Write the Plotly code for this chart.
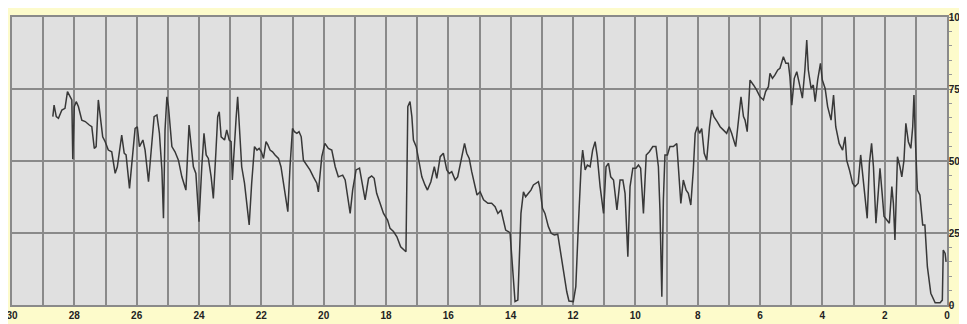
import plotly.graph_objects as go

# days before now (30 = oldest, 0 = now)
days = [
    28.69, 28.65, 28.58, 28.51, 28.40, 28.30, 28.22, 28.14, 28.08, 28.05, 28.00, 27.94, 27.87, 27.76,
    27.65, 27.52, 27.44, 27.36, 27.30, 27.23, 27.15, 27.09, 27.01, 26.91, 26.80, 26.69, 26.62, 26.53,
    26.48, 26.40, 26.34, 26.23, 26.16, 26.05, 25.98, 25.91, 25.80, 25.73, 25.62, 25.54, 25.44, 25.35,
    25.27, 25.19, 25.14, 25.09, 25.03, 24.98, 24.87, 24.77, 24.66,
    24.55, 24.42, 24.32, 24.25, 24.18, 24.10, 24.00, 23.91, 23.84, 23.77, 23.70, 23.61, 23.54, 23.46,
    23.40, 23.35, 23.29, 23.18, 23.11, 23.03, 22.97, 22.93, 22.86, 22.81, 22.76, 22.71, 22.63, 22.54,
    22.39, 22.31, 22.22, 22.14, 22.07, 22.00, 21.93, 21.85, 21.79, 21.72, 21.64, 21.56, 21.45, 21.37,
    21.29, 21.22, 21.15, 21.08, 21.00, 20.94, 20.86, 20.79, 20.72, 20.65, 20.54, 20.44, 20.33,
    20.22, 20.17, 20.06, 19.96, 19.85, 19.74, 19.63, 19.53, 19.39, 19.31, 19.24, 19.15, 19.07, 18.96,
    18.85, 18.75, 18.67, 18.56, 18.46, 18.38, 18.30, 18.19, 18.08, 17.95, 17.87, 17.76, 17.65, 17.53,
    17.44, 17.36, 17.30, 17.23, 17.17, 17.12, 17.03, 16.96, 16.85, 16.75, 16.67, 16.56, 16.45, 16.37,
    16.26, 16.16, 16.05, 15.97,
    15.89, 15.78, 15.70, 15.59, 15.48, 15.41, 15.33, 15.25, 15.16, 15.08, 14.98, 14.87, 14.73, 14.61,
    14.50, 14.41, 14.31, 14.23, 14.16, 14.02, 13.97, 13.91, 13.86, 13.77, 13.73, 13.67, 13.59, 13.52,
    13.43, 13.35, 13.27, 13.20, 13.11, 13.06, 12.98, 12.90, 12.79, 12.70, 12.60, 12.49, 12.42, 12.31,
    12.20, 12.13, 11.99, 11.91, 11.83, 11.74, 11.69,
    11.61, 11.54, 11.45, 11.37, 11.29, 11.22, 11.13, 11.02, 10.94, 10.86, 10.79, 10.70, 10.59, 10.49,
    10.40, 10.33, 10.24, 10.17, 10.08, 9.98, 9.90, 9.83, 9.74, 9.65, 9.55, 9.44, 9.34, 9.26,
    9.21, 9.15, 9.10, 9.05, 8.97, 8.89, 8.78, 8.67, 8.59, 8.54, 8.46, 8.37, 8.30, 8.22,
    8.14, 8.08, 8.01, 7.94, 7.87, 7.79, 7.71, 7.62, 7.55, 7.48, 7.37, 7.28,
    7.18, 7.07, 6.99, 6.91, 6.78, 6.69, 6.61, 6.53, 6.48, 6.41, 6.32, 6.21, 6.11, 6.00,
    5.89, 5.82, 5.73, 5.68, 5.60, 5.52, 5.43, 5.36, 5.25, 5.17, 5.09, 5.04, 4.98, 4.90,
    4.82, 4.75, 4.64, 4.56, 4.50, 4.45, 4.36, 4.29, 4.23, 4.15, 4.06, 4.00, 3.91, 3.83,
    3.72, 3.64, 3.57, 3.46,
    3.35, 3.27, 3.22, 3.13, 3.03, 2.95, 2.85, 2.77, 2.69, 2.60, 2.56, 2.49, 2.42, 2.36,
    2.28, 2.20, 2.15, 2.09, 2.02, 1.93, 1.85, 1.77, 1.72, 1.67, 1.59, 1.51, 1.45, 1.38,
    1.32, 1.24, 1.16, 1.10, 1.06, 1.01, 0.95, 0.87, 0.78, 0.71, 0.63, 0.52, 0.38, 0.22,
    0.15, 0.12, 0.06, 0.03,
]

level = [
    65.4, 69.4, 65.4, 64.8, 67.7, 68.3, 74.1, 72.3, 71.2, 50.6, 68.9, 70.6, 68.9, 64.2,
    63.7, 62.5, 61.9, 54.4, 55.0, 71.2, 64.2, 58.4, 56.7, 53.8, 53.2, 45.7, 48.0, 54.4,
    59.0, 52.7, 52.1, 40.5, 49.2, 61.3, 61.9, 55.0, 57.3, 53.8, 42.8, 53.8, 65.4, 66.0,
    59.6, 46.9, 30.1, 60.8, 72.3, 68.9, 55.0, 53.2, 50.3,
    44.5, 39.9, 62.5, 53.8, 48.0, 45.7, 28.9, 48.0, 59.6, 52.1, 50.9, 44.5, 37.0, 52.7,
    65.4, 67.1, 58.4, 57.3, 60.8, 57.3, 56.7, 43.4, 58.4, 64.8, 72.3, 61.9, 48.0, 42.3,
    27.8, 42.3, 55.0, 53.8, 54.4, 53.2, 50.9, 56.7, 55.6, 53.8, 53.2, 52.1, 50.9, 48.0,
    42.8, 37.6, 32.4, 48.0, 61.3, 60.2, 59.6, 60.2, 58.4, 50.3, 48.6, 46.9, 44.5,
    42.3, 39.3, 51.5, 56.1, 54.4, 53.8, 48.0, 44.5, 45.1, 43.4, 37.6, 31.8, 39.9, 46.9,
    47.5, 41.1, 36.5, 44.0, 44.8, 44.0, 38.8, 35.3, 31.8, 29.5, 26.6, 25.5, 23.7, 20.2,
    19.1, 18.5, 68.9, 70.6, 65.4, 57.3, 55.0, 50.3, 44.5, 41.7, 39.9, 42.8, 48.0, 44.0,
    51.5, 52.7, 46.9, 45.7,
    46.3, 43.4, 44.5, 50.3, 56.1, 52.7, 50.9, 46.3, 41.7, 38.2, 39.3, 36.5, 35.3, 35.3,
    34.1, 31.8, 33.0, 28.9, 26.0, 25.1, 18.0, 6.4, 1.2, 1.7, 13.3, 31.8, 39.3, 37.6,
    38.8, 39.9, 41.7, 42.3, 42.8, 40.5, 33.6, 31.8, 27.2, 24.9, 24.3, 24.6, 19.1, 12.2,
    4.6, 1.4, 1.2, 6.4, 27.2, 48.0, 53.8,
    46.9, 48.6, 48.0, 53.8, 56.7, 51.5, 41.1, 31.8, 48.0, 49.2, 44.5, 43.4, 33.0, 43.4,
    43.4, 38.8, 16.8, 41.1, 47.5, 47.5, 48.6, 47.5, 31.8, 52.1, 53.2, 55.0, 55.0, 48.0,
    33.0, 2.9, 36.5, 52.1, 52.1, 55.0, 55.0, 56.1, 44.5, 35.3, 43.4, 39.9, 38.8, 34.7,
    46.9, 59.6, 61.9, 59.6, 61.3, 52.7, 50.3, 61.9, 67.7, 65.4, 63.6, 61.9,
    60.8, 59.6, 61.9, 59.6, 55.0, 65.4, 72.3, 65.4, 64.2, 60.2, 78.1, 76.4, 74.7, 72.3,
    71.2, 74.1, 75.8, 80.4, 78.7, 79.9, 81.6, 82.2, 86.2, 83.9, 83.9, 79.3, 69.4, 78.7,
    81.0, 77.5, 71.8, 81.6, 92.0, 81.6, 75.2, 76.4, 70.6, 78.1, 83.9, 78.1, 75.2, 68.9,
    64.2, 72.9, 61.9, 56.1,
    53.8, 58.4, 50.3, 46.9, 42.3, 41.1, 42.3, 52.1, 43.4, 34.1, 30.1, 49.2, 56.1, 48.0,
    28.4, 39.9, 47.5, 39.9, 30.7, 29.5, 28.4, 41.1, 35.3, 22.6, 51.5, 48.0, 44.5, 50.3,
    63.1, 56.7, 54.4, 61.9, 72.9, 56.1, 39.9, 38.2, 27.8, 27.8, 13.3, 4.1, 0.8, 0.8,
    1.7, 19.1, 17.9, 15.0,
]

x_ticks = list(range(30, -1, -2))
y_ticks = [0, 25, 50, 75, 100]

grid = "#8a8a8a"
tick_font = dict(family="Liberation Sans, Arial, sans-serif", size=10, color="#222222", weight="bold")

fig = go.Figure()
fig.add_trace(go.Scatter(
    x=days,
    y=level,
    mode="lines",
    line=dict(color="#383838", width=1.5),
    hoverinfo="skip",
))

# the page body adds an 8px offset; the figure runs past the window edge like the original
fig.update_layout(
    width=975,
    height=332,
    margin=dict(l=4, r=36, t=9, b=35, pad=0),
    paper_bgcolor="#fdfbcb",
    plot_bgcolor="#e0e0e0",
    showlegend=False,
    xaxis=dict(
        range=[30, 0],
        tickvals=x_ticks,
        ticktext=[str(v) for v in x_ticks],
        showgrid=True, gridcolor=grid, gridwidth=1.5,
        minor=dict(dtick=1, showgrid=True, gridcolor=grid, gridwidth=1.5),
        zeroline=False,
        showline=True, linecolor=grid, linewidth=1.5, mirror=True,
        ticks="", tickfont=tick_font,
        ticklabeloverflow="allow",
        automargin=False,
    ),
    yaxis=dict(
        range=[0, 100],
        side="right",
        tickvals=y_ticks,
        showgrid=True, gridcolor=grid, gridwidth=1.5,
        minor=dict(dtick=5, ticks="outside", ticklen=3, tickcolor="#999999", showgrid=False),
        zeroline=False,
        showline=True, linecolor=grid, linewidth=1.5, mirror=True,
        ticks="outside", ticklen=4, tickcolor=grid,
        tickfont=tick_font,
        ticklabelstandoff=-6,
        ticklabeloverflow="allow",
        automargin=False,
    ),
)

fig.write_html("out.html")
